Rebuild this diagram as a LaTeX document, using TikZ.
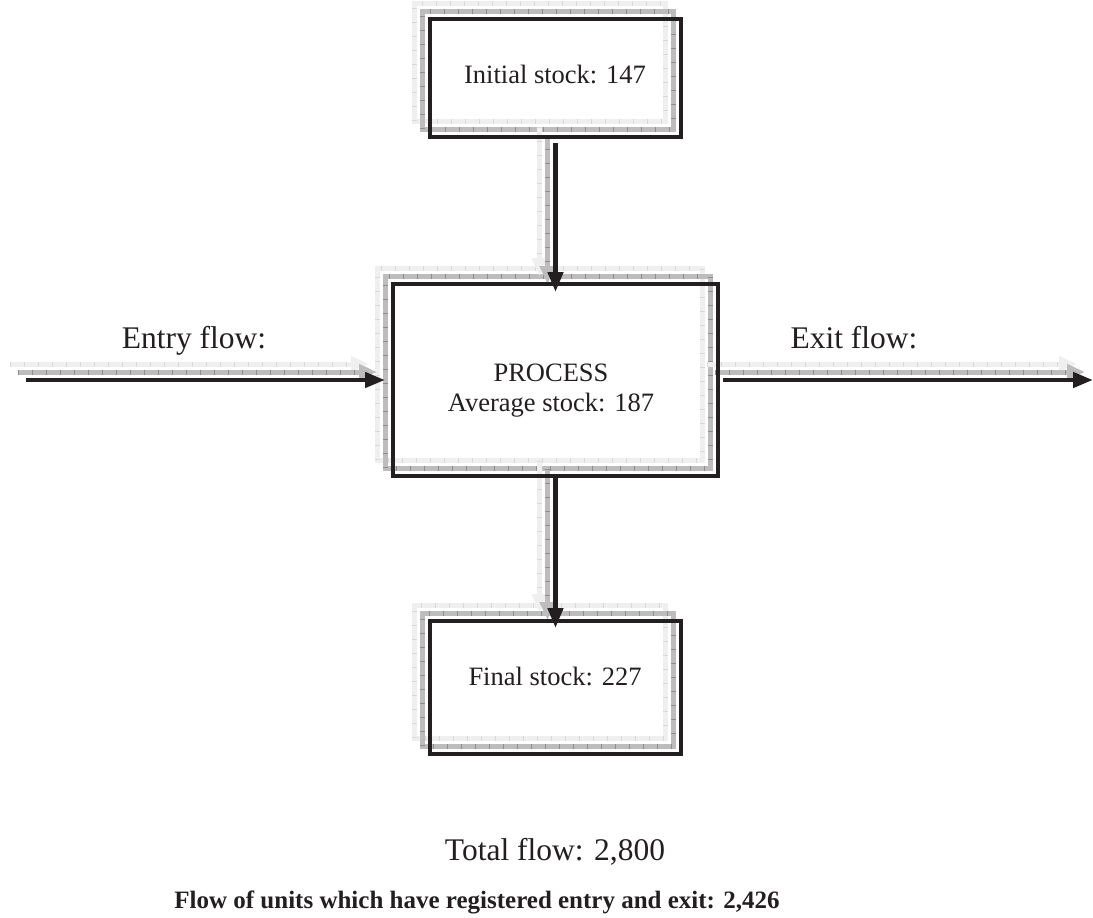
\documentclass[tikz,border=0pt]{standalone}
\usepackage{fontspec}
\setmainfont{Liberation Serif}
\usetikzlibrary{arrows.meta}
\definecolor{shmid}{HTML}{BDBDBD}
\definecolor{shmidtick}{HTML}{8E8E8E}
\definecolor{shlight}{HTML}{EFEFEF}
\definecolor{shlighttick}{HTML}{D9D9D9}
\definecolor{ink}{HTML}{231F20}
\newcommand\ShBox[1]{%
  \foreach \o/\c/\t in {16/shlight/shlighttick,8/shmid/shmidtick}{%
    \draw[line width=5pt, draw=\c] ([shift={(-\o pt,\o pt)}]#1.south west) rectangle ([shift={(-\o pt,\o pt)}]#1.north east);
    \draw[line width=5pt, draw=\t, dash pattern=on 1pt off 13pt] ([shift={(-\o pt,\o pt)}]#1.south west) rectangle ([shift={(-\o pt,\o pt)}]#1.north east);
  }}
\newcommand\ShArrow[2]{%
  \foreach \o/\c/\t in {16/shlight/shlighttick,8/shmid/shmidtick}{%
    \begin{scope}[transform canvas={shift={(-\o pt,\o pt)}}]
      \draw[line width=5pt, draw=\c, -{Triangle[length=18pt,width=15pt]}] #1 -- #2;
      \draw[line width=5pt, draw=\t, dash pattern=on 1pt off 13pt, shorten >=18pt] #1 -- #2;
    \end{scope}
  }}
\begin{document}
\begin{tikzpicture}[x=1pt,y=-1pt,
  box/.style={draw=ink, line width=4pt, outer sep=0pt, inner sep=0pt, minimum width=251pt},
  txt/.style={font=\fontsize{26.5}{30}\selectfont, text=ink, anchor=base, inner sep=0pt},
  big/.style={font=\fontsize{31.5}{36}\selectfont, text=ink, anchor=base, inner sep=0pt},
  boldtxt/.style={font=\fontsize{25}{30}\selectfont\bfseries, text=ink, anchor=base, inner sep=0pt},
  flow/.style={draw=ink, line width=4.5pt, -{Triangle[length=20pt,width=15pt]}}]
\useasboundingbox (0,0) rectangle (1093,918);
\fill[white] (0,0) rectangle (1093,918);
% boxes
\node[box, minimum height=118pt] (top) at (555.5,78) {};
\node[box, minimum width=325pt, minimum height=192pt] (proc) at (555.5,380) {};
\node[box, minimum height=133pt] (final) at (555.5,687.5) {};
\coordinate (in) at (26,380);
\coordinate (out) at (1093,380);
% shadows
\ShBox{top}
\ShBox{proc}
\ShBox{final}
\ShArrow{([yshift=-6pt]top.south)}{([yshift=-8pt]proc.north)}
\ShArrow{([yshift=-1pt]proc.south)}{([yshift=-7pt]final.north)}
\ShArrow{(in)}{([xshift=-8pt]proc.west)}
\ShArrow{([xshift=5pt]proc.east)}{(out)}
% black outlines on top
\draw[draw=ink, line width=4pt] (top.south west) rectangle (top.north east);
\draw[draw=ink, line width=4pt] (proc.south west) rectangle (proc.north east);
\draw[draw=ink, line width=4pt] (final.south west) rectangle (final.north east);
\draw[flow] ([yshift=-6pt]top.south) -- ([yshift=-8pt]proc.north);
\draw[flow] ([yshift=-1pt]proc.south) -- ([yshift=-7pt]final.north);
\draw[flow] (in) -- ([xshift=-8pt]proc.west);
\draw[flow] ([xshift=5pt]proc.east) -- (out);
% texts
\node[txt] (tTop) at (555,83) {Initial stock: 147};
\node[txt] (tProc1) at (551,381) {PROCESS};
\node[txt] (tProc2) at (551,411) {Average stock: 187};
\node[txt] (tFinal) at (555,685) {Final stock: 227};
\node[big] (tEntry) at (194,348) {Entry flow:};
\node[big] (tExit) at (854,348) {Exit flow:};
\node[big] (tTotal) at (555,860) {Total flow: 2,800};
\node[boldtxt] (tUnits) at (477,908) {Flow of units which have registered entry and exit: 2,426};
\end{tikzpicture}
\end{document}
